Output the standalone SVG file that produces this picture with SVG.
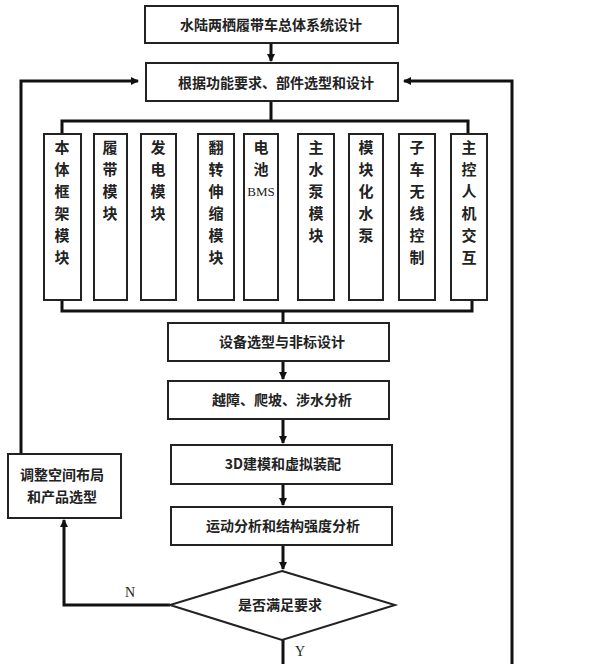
<svg xmlns="http://www.w3.org/2000/svg" width="611" height="664" viewBox="0 0 611 664">
<defs><marker id="a" markerWidth="8" markerHeight="8" refX="7" refY="4" orient="auto" markerUnits="userSpaceOnUse"><path d="M0,0 L8,4 L0,8 z" fill="#111"/></marker></defs>
<style>
rect,polygon{fill:#fff;stroke:#222;stroke-width:2}
text{font-family:"Noto Sans CJK SC","Liberation Serif",serif;font-size:14px;fill:#222;text-anchor:middle;font-weight:bold}
.v{font-size:15px}
#c path{fill:none;stroke:#111;stroke-width:3}
</style>
<rect width="611" height="664" style="fill:#fff;stroke:none"/>
<g id="c">
<path d="M271,43 V61" marker-end="url(#a)"/>
<path d="M21,454 V81 H138" marker-end="url(#a)"/>
<path d="M512,664 V81 H404" marker-end="url(#a)"/>
<path d="M271,101 V121 M62,134 V121 H468 V134"/>
<path d="M62,300 V311 H472 V300 M283,311 V323"/>
<path d="M283,361 V379" marker-end="url(#a)"/>
<path d="M283,419 V443" marker-end="url(#a)"/>
<path d="M283,484 V505" marker-end="url(#a)"/>
<path d="M283,545 V569" marker-end="url(#a)"/>
<path d="M170,605 H64 V520" marker-end="url(#a)"/>
<path d="M283,640 V664"/>
</g>
<g id="n1"><rect x="145" y="6" width="253" height="37"/><text x="271" y="30">水陆两栖履带车总体系统设计</text></g>
<g id="n2"><rect x="146" y="63" width="252" height="38"/><text x="276" y="88">根据功能要求、部件选型和设计</text></g>
<g id="m1"><rect x="44" y="134" width="37" height="166"/><text class="v" x="62"><tspan x="62" y="153">本</tspan><tspan x="62" y="175">体</tspan><tspan x="62" y="197">框</tspan><tspan x="62" y="219">架</tspan><tspan x="62" y="241">模</tspan><tspan x="62" y="263">块</tspan></text></g>
<g id="m2"><rect x="94" y="134" width="33" height="166"/><text class="v"><tspan x="110" y="153">履</tspan><tspan x="110" y="175">带</tspan><tspan x="110" y="197">模</tspan><tspan x="110" y="219">块</tspan></text></g>
<g id="m3"><rect x="141" y="134" width="35" height="166"/><text class="v"><tspan x="158" y="153">发</tspan><tspan x="158" y="175">电</tspan><tspan x="158" y="197">模</tspan><tspan x="158" y="219">块</tspan></text></g>
<g id="m4"><rect x="198" y="134" width="36" height="166"/><text class="v"><tspan x="216" y="153">翻</tspan><tspan x="216" y="175">转</tspan><tspan x="216" y="197">伸</tspan><tspan x="216" y="219">缩</tspan><tspan x="216" y="241">模</tspan><tspan x="216" y="263">块</tspan></text></g>
<g id="m5"><rect x="244" y="134" width="34" height="166"/><text class="v"><tspan x="261" y="153">电</tspan><tspan x="261" y="175">池</tspan><tspan x="261" y="196" style="font-family:'Liberation Serif',serif;font-weight:normal;font-size:13px">BMS</tspan></text></g>
<g id="m6"><rect x="298" y="134" width="36" height="166"/><text class="v"><tspan x="316" y="153">主</tspan><tspan x="316" y="175">水</tspan><tspan x="316" y="197">泵</tspan><tspan x="316" y="219">模</tspan><tspan x="316" y="241">块</tspan></text></g>
<g id="m7"><rect x="349" y="134" width="34" height="166"/><text class="v"><tspan x="366" y="153">模</tspan><tspan x="366" y="175">块</tspan><tspan x="366" y="197">化</tspan><tspan x="366" y="219">水</tspan><tspan x="366" y="241">泵</tspan></text></g>
<g id="m8"><rect x="399" y="134" width="36" height="166"/><text class="v"><tspan x="417" y="153">子</tspan><tspan x="417" y="175">车</tspan><tspan x="417" y="197">无</tspan><tspan x="417" y="219">线</tspan><tspan x="417" y="241">控</tspan><tspan x="417" y="263">制</tspan></text></g>
<g id="m9"><rect x="451" y="134" width="36" height="166"/><text class="v"><tspan x="469" y="153">主</tspan><tspan x="469" y="175">控</tspan><tspan x="469" y="197">人</tspan><tspan x="469" y="219">机</tspan><tspan x="469" y="241">交</tspan><tspan x="469" y="263">互</tspan></text></g>
<g id="n3"><rect x="168" y="323" width="221" height="38"/><text x="282" y="347">设备选型与非标设计</text></g>
<g id="n4"><rect x="168" y="381" width="221" height="38"/><text x="282" y="405">越障、爬坡、涉水分析</text></g>
<g id="n5"><rect x="171" y="445" width="221" height="39"/><text x="283" y="469">3D建模和虚拟装配</text></g>
<g id="n6"><rect x="171" y="507" width="221" height="38"/><text x="283" y="531">运动分析和结构强度分析</text></g>
<g id="n7"><polygon points="282,571 395,605 282,640 170,605"/><text x="280" y="610">是否满足要求</text></g>
<g id="n8"><rect x="8" y="454" width="113" height="64"/><text x="62" y="480">调整空间布局</text><text x="62" y="502">和产品选型</text></g>
<text x="130" y="597" style="font-family:'Liberation Serif',serif;font-weight:normal">N</text>
<text x="300" y="656" style="font-family:'Liberation Serif',serif;font-weight:normal">Y</text>
</svg>
